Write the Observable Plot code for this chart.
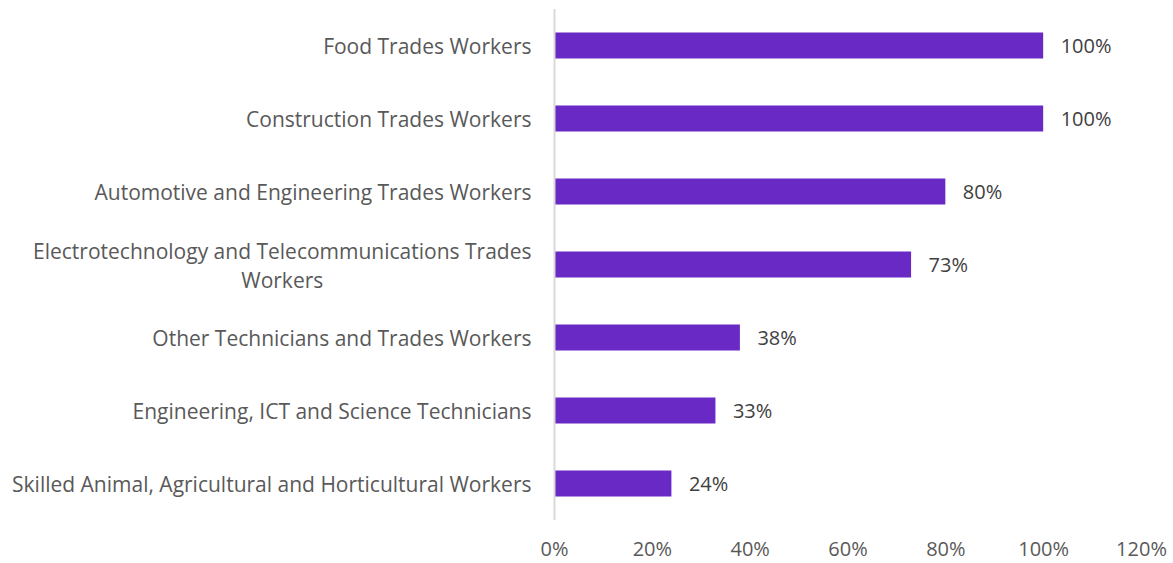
<!DOCTYPE html>
<html>
<head>
<meta charset="utf-8">
<script src="https://cdn.jsdelivr.net/npm/d3@7"></script>
<script src="https://cdn.jsdelivr.net/npm/@observablehq/plot@0.6"></script>
<style>
  html, body { margin: 0; padding: 0; background: #fff; }
  svg { display: block; }
</style>
</head>
<body>
<div id="chart"></div>
<script>
const categories = [
  "Food Trades Workers",
  "Construction Trades Workers",
  "Automotive and Engineering Trades Workers",
  "Electrotechnology and Telecommunications Trades Workers",
  "Other Technicians and Trades Workers",
  "Engineering, ICT and Science Technicians",
  "Skilled Animal, Agricultural and Horticultural Workers"
];
const values = [1.00, 1.00, 0.80, 0.73, 0.38, 0.33, 0.24];
const xTicks = [0, 0.2, 0.4, 0.6, 0.8, 1.0, 1.2];
const wrappedLabel = "Electrotechnology and Telecommunications Trades Workers";
const wrapFirst = "Electrotechnology and Telecommunications Trades";
const wrapSecond = "Workers";

const data = categories.map((c, i) => ({category: c, value: values[i]}));

const FONT = "'Open Sans', sans-serif";
const FS = 20;
const LFS = 21;
const tickPad = 23;

// measure to center the second line of the wrapped label under the first
const ctx = document.createElement("canvas").getContext("2d");
ctx.font = `${LFS}px 'Open Sans'`;
const w1 = ctx.measureText(wrapFirst).width;

const pct = d3.format(".0%");

const chart = Plot.plot({
  width: 1173,
  height: 563,
  marginTop: 9,
  marginBottom: 43,
  marginLeft: 554,
  marginRight: 32,
  style: {fontFamily: FONT, fontSize: FS + "px", background: "#fff"},
  x: {domain: [0, 1.2]},
  y: {domain: categories, padding: 0},
  marks: [
    Plot.barX(data, {x: "value", y: "category", fill: "#6929C4", insetTop: 23.5, insetBottom: 23.5}),
    Plot.ruleX([0], {stroke: "#d9d9d9", strokeWidth: 2}),
    Plot.axisX({ticks: xTicks, tickFormat: pct, tickSize: 0, tickPadding: 21, fill: "#595959", fontSize: FS, label: null}),
    Plot.axisY({tickSize: 0, tickPadding: tickPad, fill: "#595959", fontSize: LFS, label: null, dy: 1,
      tickFormat: d => d === wrappedLabel ? "" : d}),
    Plot.text([wrappedLabel], {y: d => d, text: () => wrapFirst, frameAnchor: "left", textAnchor: "end",
      dx: -tickPad, dy: -13, fill: "#595959", fontSize: LFS}),
    Plot.text([wrappedLabel], {y: d => d, text: () => wrapSecond, frameAnchor: "left", textAnchor: "middle",
      dx: -tickPad - w1 / 2, dy: 16, fill: "#595959", fontSize: LFS}),
    Plot.text(data, {x: "value", y: "category", text: d => pct(d.value), textAnchor: "start", dx: 17, dy: 1,
      fill: "#404040", fontSize: FS})
  ]
});
document.getElementById("chart").appendChild(chart);
</script>
</body>
</html>
